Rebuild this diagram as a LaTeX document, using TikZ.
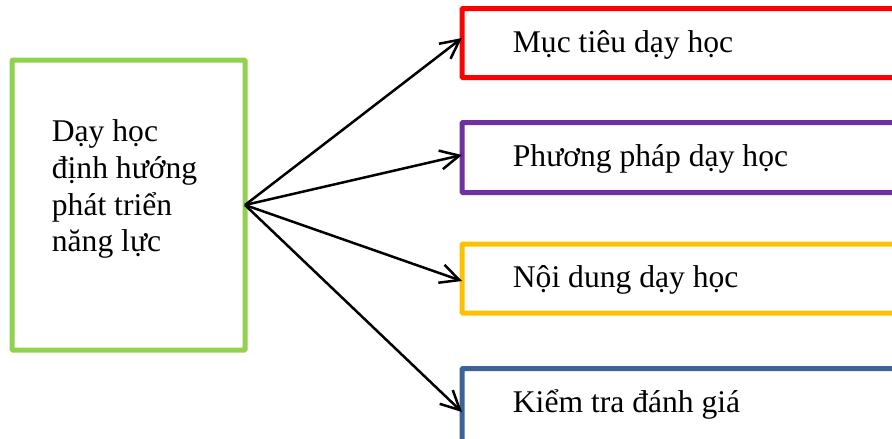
\documentclass[tikz,border=0pt]{standalone}
\usepackage{fontspec}
\setmainfont{Liberation Serif}
\usetikzlibrary{arrows.meta}
\definecolor{boxgreen}{HTML}{92D050}
\definecolor{boxred}{HTML}{FF0000}
\definecolor{boxpurple}{HTML}{7030A0}
\definecolor{boxgold}{HTML}{FFC000}
\definecolor{boxblue}{HTML}{3B6396}
\begin{document}
\begin{tikzpicture}[x=1pt,y=-1pt,
  frame/.style={draw, line width=5pt, rectangle, inner sep=0pt, outer sep=0pt,
                rounded corners=1pt, anchor=north west},
  txt/.style={font=\fontsize{31.6}{36.7}\selectfont, inner sep=0pt, anchor=base west},
  link/.style={line width=2.5pt, -{Straight Barb[length=19pt,width=19pt]}}]
\useasboundingbox (0,0) rectangle (892,439);
\clip (0,0) rectangle (892,439);
% central box
\node[frame, draw=boxgreen, minimum width=233pt, minimum height=290pt] (L) at (12,60) {};
\node[txt] (Ltext) at (51.7,141.7)
  {\parbox[t]{170pt}{\raggedright Dạy học\\ định hướng\\ phát triển\\ năng lực}};
% component boxes
\node[frame, draw=boxred,    minimum width=440pt, minimum height=69pt] (B1) at (462,8.5) {};
\node[frame, draw=boxpurple, minimum width=440pt, minimum height=70pt] (B2) at (462,122.5) {};
\node[frame, draw=boxgold,   minimum width=440pt, minimum height=69pt] (B3) at (462,244) {};
\node[frame, draw=boxblue,   minimum width=440pt, minimum height=80pt] (B4) at (462,368.5) {};
\node[txt] (T1) at (512.7,52)    {Mục tiêu dạy học};
\node[txt] (T2) at (512.7,166.7) {Phương pháp dạy học};
\node[txt] (T3) at (512.7,287.7) {Nội dung dạy học};
\node[txt] (T4) at (512.7,412.7) {Kiểm tra đánh giá};
% connectors
\draw[link] (L.east) -- ([yshift=5pt]B1.west);
\draw[link] (L.east) -- ([yshift=2.5pt]B2.west);
\draw[link] (L.east) -- ([yshift=-2.5pt]B3.west);
\draw[link] (L.east) -- ([yshift=-3.5pt]B4.west);
\end{tikzpicture}
\end{document}
